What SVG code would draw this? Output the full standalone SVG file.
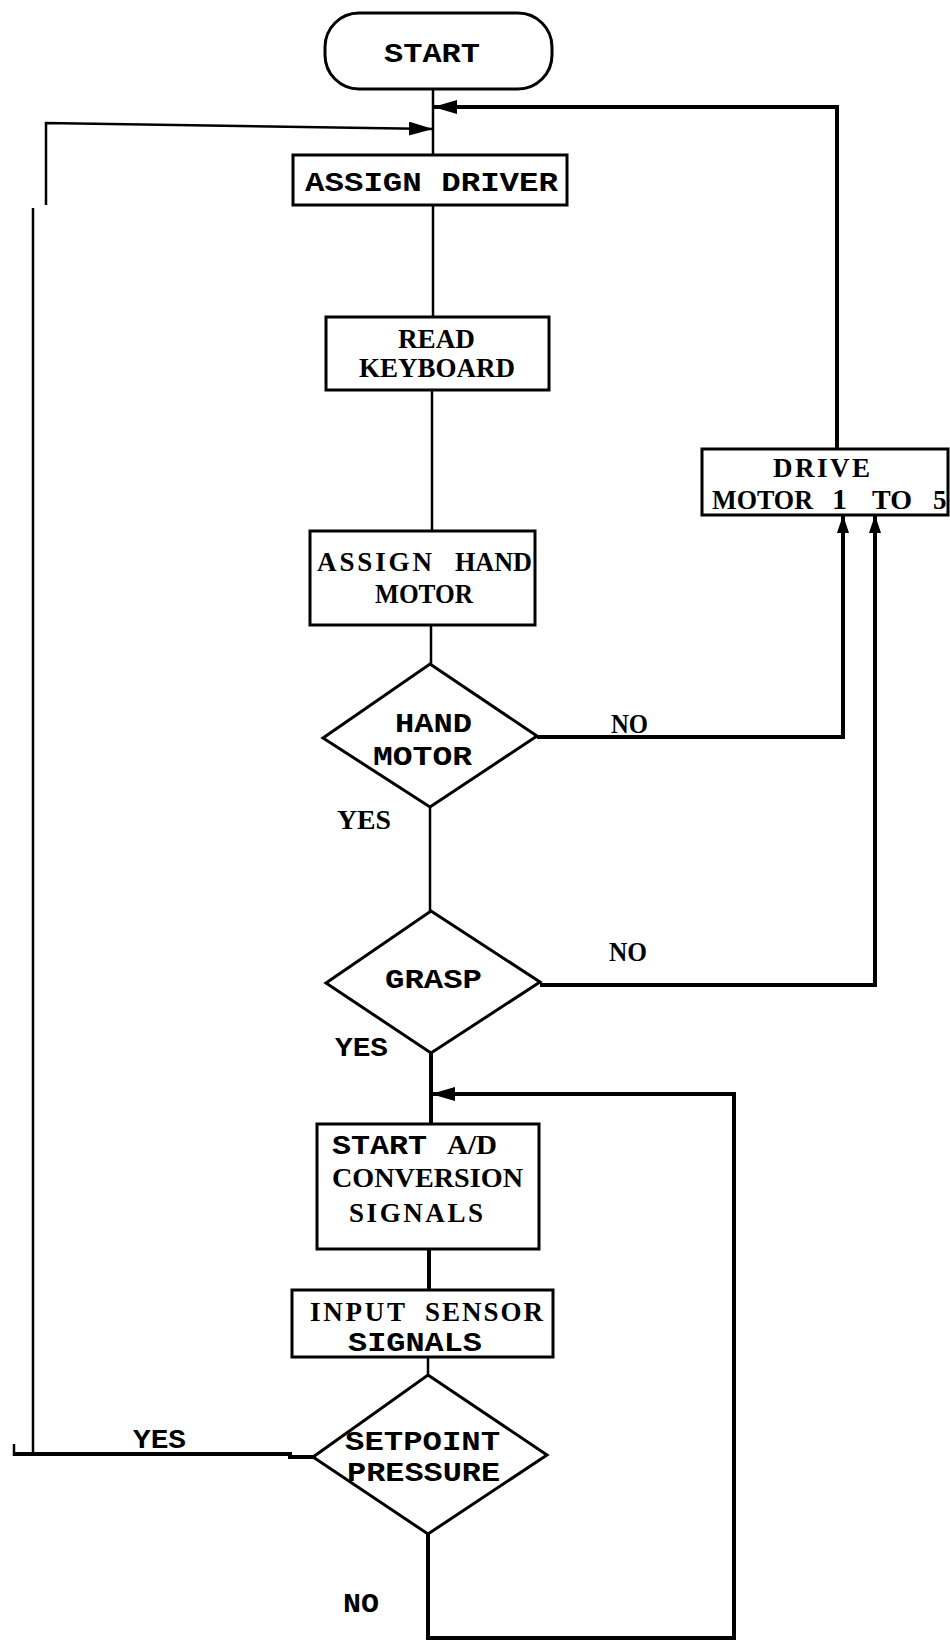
<svg xmlns="http://www.w3.org/2000/svg" width="950" height="1640" viewBox="0 0 950 1640">
<style>
.box{fill:#fff;stroke:#000;stroke-width:3}
.ln{fill:none;stroke:#000;stroke-width:2.5}
.thk{fill:none;stroke:#000;stroke-width:4}
.mono{font-family:"Liberation Mono","Courier New",monospace;font-weight:bold;font-size:28px;fill:#000}
.serif{font-family:"Liberation Serif","Times New Roman",serif;font-weight:bold;font-size:27px;fill:#000}
</style>
<defs>
<marker id="arr" viewBox="0 0 24 14" refX="24" refY="7" markerWidth="24" markerHeight="14" markerUnits="userSpaceOnUse" orient="auto">
<path d="M0,0 L24,7 L0,14 Z" fill="#000"/>
</marker>
<marker id="arrs" viewBox="0 0 18 12" refX="18" refY="6" markerWidth="18" markerHeight="12" markerUnits="userSpaceOnUse" orient="auto">
<path d="M0,0 L18,6 L0,12 Z" fill="#000"/>
</marker>
</defs>
<g id="connectors">
<path class="ln" d="M433,89 V155"/>
<path class="thk" d="M837,449 V107 H433" marker-end="url(#arr)"/>
<path class="ln" d="M46,205 V123 L433,129" marker-end="url(#arr)"/>
<path class="ln" d="M433,205 V317"/>
<path class="ln" d="M432,390 V531"/>
<path class="ln" d="M431,625 V664"/>
<path class="thk" d="M537,737 H843 V515" marker-end="url(#arrs)"/>
<path class="ln" d="M430,807 V911"/>
<path class="thk" d="M540,985 H875 V515" marker-end="url(#arrs)"/>
<path class="thk" d="M431,1053 V1124"/>
<path class="thk" d="M429,1250 V1290"/>
<path class="ln" d="M428,1357 V1375"/>
<path class="thk" d="M428,1534 V1638 H734 V1094 H431" marker-end="url(#arr)"/>
<path class="ln" d="M33,1454 V208"/>
<path class="thk" d="M313,1457 H290 V1454 H15"/>
<path class="ln" d="M14,1444 V1456"/>
</g>
<g id="start">
<rect class="box" x="325" y="13" width="227" height="76" rx="34"/>
<text class="mono" x="384" y="62" textLength="96" lengthAdjust="spacingAndGlyphs">START</text>
</g>
<g id="assign-driver">
<rect class="box" x="293" y="155" width="274" height="50"/>
<text class="mono" x="305" y="191" textLength="253" lengthAdjust="spacingAndGlyphs">ASSIGN DRIVER</text>
</g>
<g id="read-keyboard">
<rect class="box" x="326" y="317" width="223" height="73"/>
<text class="serif" x="398" y="348" textLength="77" lengthAdjust="spacingAndGlyphs">READ</text>
<text class="serif" x="359" y="377" textLength="156" lengthAdjust="spacingAndGlyphs">KEYBOARD</text>
</g>
<g id="assign-hand-motor">
<rect class="box" x="310" y="531" width="225" height="94"/>
<text class="serif" y="571"><tspan x="317" textLength="115" lengthAdjust="spacing">ASSIGN</tspan><tspan x="455" textLength="77" lengthAdjust="spacingAndGlyphs">HAND</tspan></text>
<text class="serif" x="375" y="603" textLength="98" lengthAdjust="spacingAndGlyphs">MOTOR</text>
</g>
<g id="drive-motor">
<rect class="box" x="702" y="449" width="246" height="66"/>
<text class="serif" x="773" y="477" textLength="97" lengthAdjust="spacing">DRIVE</text>
<text class="serif" y="509"><tspan x="712" textLength="101" lengthAdjust="spacingAndGlyphs">MOTOR</tspan><tspan x="832" font-size="30">1</tspan><tspan x="872" textLength="40" lengthAdjust="spacingAndGlyphs">TO</tspan><tspan x="933">5</tspan></text>
</g>
<g id="hand-motor">
<path class="box" d="M430,664 L537,736 L430,807 L323,738 Z"/>
<text class="mono" x="395" y="732" textLength="77" lengthAdjust="spacingAndGlyphs">HAND</text>
<text class="mono" x="373" y="765" textLength="99" lengthAdjust="spacingAndGlyphs">MOTOR</text>
<text class="serif" x="611" y="733" font-size="24" textLength="37" lengthAdjust="spacingAndGlyphs">NO</text>
<text class="serif" x="337" y="829" font-size="28" textLength="54" lengthAdjust="spacingAndGlyphs">YES</text>
</g>
<g id="grasp">
<path class="box" d="M431,911 L540,982 L431,1053 L326,983 Z"/>
<text class="mono" x="385" y="988" textLength="97" lengthAdjust="spacingAndGlyphs">GRASP</text>
<text class="serif" x="609" y="961" font-size="26" textLength="38" lengthAdjust="spacingAndGlyphs">NO</text>
<text class="mono" x="335" y="1056" textLength="53" lengthAdjust="spacingAndGlyphs">YES</text>
</g>
<g id="start-ad">
<rect class="box" x="317" y="1124" width="222" height="125"/>
<text y="1154"><tspan class="mono" x="332" textLength="95" lengthAdjust="spacingAndGlyphs">START</tspan><tspan class="serif" x="447" textLength="50" lengthAdjust="spacingAndGlyphs">A/D</tspan></text>
<text class="serif" x="332" y="1187" textLength="191" lengthAdjust="spacingAndGlyphs">CONVERSION</text>
<text class="serif" x="349" y="1222" textLength="134" lengthAdjust="spacing">SIGNALS</text>
</g>
<g id="input-sensor">
<rect class="box" x="292" y="1290" width="261" height="67"/>
<text class="serif" y="1321"><tspan x="310" textLength="95" lengthAdjust="spacing">INPUT</tspan><tspan x="425" textLength="118" lengthAdjust="spacing">SENSOR</tspan></text>
<text class="mono" x="348" y="1351" textLength="134" lengthAdjust="spacingAndGlyphs">SIGNALS</text>
</g>
<g id="setpoint-pressure">
<path class="box" d="M428,1375 L547,1455 L428,1534 L313,1457 Z"/>
<text class="mono" x="345" y="1450" textLength="155" lengthAdjust="spacingAndGlyphs">SETPOINT</text>
<text class="mono" x="347" y="1481" textLength="153" lengthAdjust="spacingAndGlyphs">PRESSURE</text>
<text class="mono" x="133" y="1448" textLength="53" lengthAdjust="spacingAndGlyphs">YES</text>
<text class="mono" x="343" y="1612" textLength="36" lengthAdjust="spacingAndGlyphs">NO</text>
</g>
</svg>
